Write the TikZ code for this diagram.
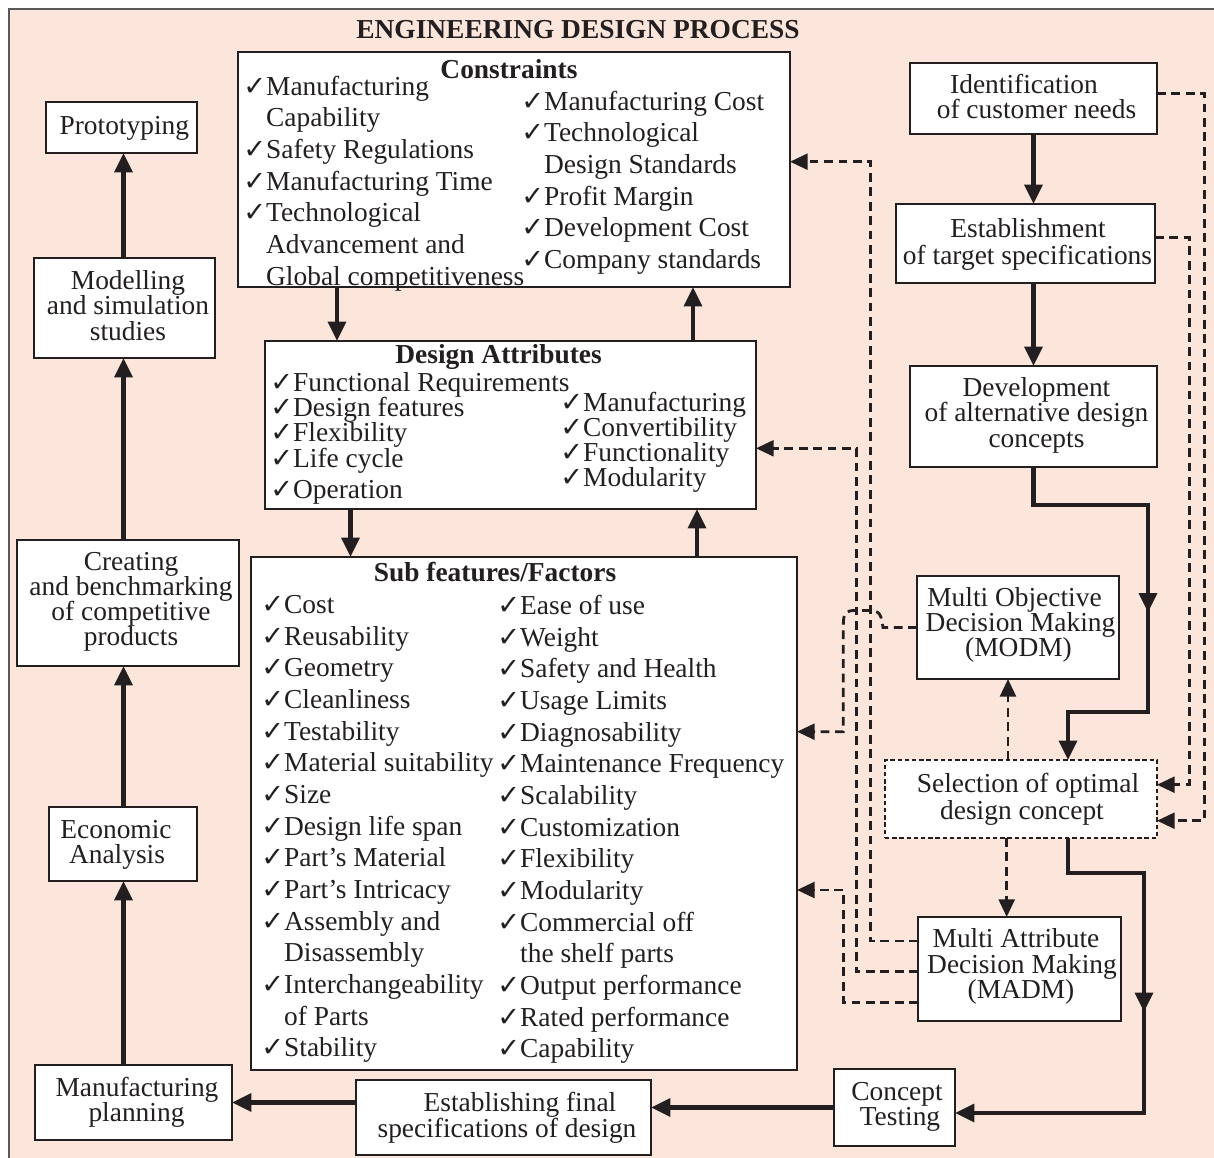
\documentclass[tikz,border=0pt]{standalone}
\usepackage{fontspec}
\setmainfont{Liberation Serif}
\newfontfamily\ckfont{DejaVu Sans}
\usetikzlibrary{arrows.meta,calc,fit,decorations.markings}
\definecolor{bg}{RGB}{252,230,220}
\definecolor{ln}{RGB}{35,31,32}
\newcommand\ck{{\ckfont\fontsize{15.5}{15.5}\selectfont ✓}}
\newcommand\itemcol[3]{%
  \foreach \f/\y/\t [count=\i] in {#3} {
    \node[itm, anchor=base west] (#1\i) at (#2,\y)
      {\ifnum\f=1 \makebox[13pt][l]{\ck}\else\hspace*{13pt}\fi\t};
  }}
\newcommand\boxlines[2]{%
  \foreach \x/\y/\t [count=\i] in {#2} {
    \node[itm, anchor=base] (#1\i) at (\x,\y) {\t};
  }}
\tikzset{
  box/.style={draw=ln, line width=0.7pt, fill=white, inner sep=0pt, outer sep=0pt},
  dbox/.style={box, dash pattern=on 2.5pt off 1.6pt},
  itm/.style={inner sep=0pt, text=ln, font=\fontsize{15.6}{18}\selectfont},
  ttl/.style={inner sep=0pt, text=ln, font=\fontsize{15.6}{18}\selectfont\bfseries},
  flow/.style={draw=ln, line width=2.6pt, -{Triangle[length=11pt,width=10pt]}},
  fb/.style={draw=ln, line width=1.6pt, dash pattern=on 5pt off 3.2pt,
    -{Triangle[length=10pt,width=9pt]}},
  midarr/.style={postaction={decorate}, decoration={markings,
    mark=at position #1 with {\arrow{Triangle[length=11pt,width=10pt]}}}},
}
\begin{document}
\begin{tikzpicture}[x=0.02cm,y=-0.02cm]
\useasboundingbox (0,0) rectangle (1214,1157);
\fill[bg] (9,9) rectangle (1214,1165);
\draw[gray!70!black, line width=0.6pt] (1213.5,9) -- (9,9) -- (9,1165);

\node[ttl, anchor=base] (title) at (578,38) {ENGINEERING DESIGN PROCESS};

% ---- big boxes ----
\node[box, fit={(238,52)(790,287)}] (cons) {};
\node[box, fit={(265,341)(756,509)}] (da) {};
\node[box, fit={(251,557)(797,1070)}] (sf) {};
\node[ttl, anchor=base] (tcons) at (509,78.3) {Constraints};
\node[ttl, anchor=base] (tda) at (498.6,363.3) {Design Attributes};
\node[ttl, anchor=base] (tsf) at (495,581.7) {Sub features/Factors};

\itemcol{cl}{243}{1/95/Manufacturing, 0/126.7/Capability, 1/158.3/Safety Regulations,
  1/190/Manufacturing Time, 1/221.7/Technological, 0/253.3/Advancement and,
  0/285/Global competitiveness}
\itemcol{cr}{521}{1/110/Manufacturing Cost, 1/141.7/Technological, 0/173.3/Design Standards,
  1/205/Profit Margin, 1/236.7/Development Cost, 1/268.3/Company standards}
\itemcol{dl}{270}{1/391.7/Functional Requirements, 1/416.7/Design features,
  1/441.7/Flexibility, 1/467.7/Life cycle, 1/498.3/Operation}
\itemcol{dr}{560}{1/411.7/Manufacturing, 1/436.7/Convertibility,
  1/461.7/Functionality, 1/486.7/Modularity}
\itemcol{sl}{261}{1/613.3/Cost, 1/645/Reusability, 1/676.6/Geometry, 1/708.3/Cleanliness,
  1/740/Testability, 1/771.7/Material suitability, 1/803.3/Size, 1/835/Design life span,
  1/866.7/Part’s Material, 1/898.3/Part’s Intricacy, 1/930/Assembly and,
  0/961.7/Disassembly, 1/993.3/Interchangeability, 0/1025/of Parts, 1/1056.7/Stability}
\itemcol{sr}{497}{1/614.3/Ease of use, 1/646/Weight, 1/677.6/Safety and Health,
  1/709.3/Usage Limits, 1/741/Diagnosability, 1/772.7/Maintenance Frequency,
  1/804.3/Scalability, 1/836/Customization, 1/867.7/Flexibility, 1/899.3/Modularity,
  1/931/Commercial off, 0/962.7/the shelf parts, 1/994.3/Output performance,
  1/1026/Rated performance, 1/1057.7/Capability}

% ---- right column ----
\node[box, fit={(910,63)(1157,134)}] (ident) {};
\boxlines{identt}{1024/93.3/Identification, 1036.5/118.3/of customer needs}
\node[box, fit={(896,204)(1155,283)}] (est) {};
\boxlines{estt}{1028/237.3/Establishment, 1027.5/264/of target specifications}
\node[box, fit={(910,366)(1157,467)}] (dev) {};
\boxlines{devt}{1036.5/396/Development, 1036.5/421.7/of alternative design, 1036.5/447.3/concepts}
\node[box, fit={(917,576)(1119,679)}] (modm) {};
\boxlines{modmt}{1014.5/606.7/Multi Objective, 1020.5/631.7/Decision Making, 1018.5/656.7/(MODM)}
\node[dbox, fit={(885,760)(1157,838)}] (sel) {};
\boxlines{selt}{1028/792.7/Selection of optimal, 1022/819.3/design concept}
\node[box, fit={(918,917)(1121,1021)}] (madm) {};
\boxlines{madmt}{1016/947.3/Multi Attribute, 1022/973.3/Decision Making, 1021/998.3/(MADM)}
\node[box, fit={(834,1069)(955,1146)}] (ct) {};
\boxlines{ctt}{897/1100.5/Concept, 900/1125.5/Testing}

% ---- bottom / left column ----
\node[box, fit={(356,1080)(651,1155)}] (efs) {};
\boxlines{efst}{520/1111.5/Establishing final, 507/1137/specifications of design}
\node[box, fit={(35,1065)(232,1140)}] (mp) {};
\boxlines{mpt}{137/1096.5/Manufacturing, 136.5/1121/planning}
\node[box, fit={(49,807)(197,881)}] (ea) {};
\boxlines{eat}{116/838.3/Economic, 117/863.3/Analysis}
\node[box, fit={(17,540)(239,666)}] (crt) {};
\boxlines{crtt}{131/570/Creating, 131/595/and benchmarking, 131/620.7/of competitive, 131/645/products}
\node[box, fit={(34,258)(215,358)}] (mod) {};
\boxlines{modt}{128/289/Modelling, 128/314.5/and simulation, 128/340/studies}
\node[box, fit={(46,102)(197,153)}] (proto) {};
\boxlines{protot}{124.3/134/Prototyping}

% ---- helper coordinates ----
\coordinate (lx) at (123.5,0);
\coordinate (ax1) at (337,0);
\coordinate (ax2) at (693,0);
\coordinate (ax3) at (350.5,0);
\coordinate (ax4) at (697,0);
\coordinate (s1) at (1068,0);
\coordinate (r1) at (1204.5,0);
\coordinate (r2) at (1189.5,0);
\coordinate (v1) at (870.5,0);
\coordinate (v2) at (856.5,0);
\coordinate (v3) at (843.3,0);
\coordinate (sm1) at (1008,0);
\coordinate (sm2) at (1006.7,0);
\coordinate (selin1) at ($(sel.east)+(0,-14.3)$);
\coordinate (selin2) at ($(sel.east)+(0,21.7)$);
\coordinate (consin) at ($(cons.east)+(0,-7.8)$);
\coordinate (dain) at ($(da.east)+(0,23.3)$);
\coordinate (sfin1) at ($(sf.east)+(0,-81.8)$);
\coordinate (sfin2) at ($(sf.east)+(0,76.5)$);
\coordinate (ctin) at ($(ct.east)+(0,5.5)$);

% ---- solid flow ----
\draw[flow] (ident.south) -- (ident.south |- est.north);
\draw[flow] (dev.north |- est.south) -- (dev.north);
\draw[flow, midarr=5.2cm] (dev.south) |- (1148,505) -- (1148,712) -| (s1 |- sel.north);
\draw[flow, midarr=5.0cm] (s1 |- sel.south) |- (1144,873) |- (ctin);
\draw[flow] (ct.west) -- (ct.west -| efs.east);
\draw[flow] (mp.east -| efs.west) -- (mp.east);
\draw[flow] (lx |- mp.north) -- (lx |- ea.south);
\draw[flow] (lx |- ea.north) -- (lx |- crt.south);
\draw[flow] (lx |- crt.north) -- (lx |- mod.south);
\draw[flow] (lx |- mod.north) -- (lx |- proto.south);
\draw[flow] (ax1 |- cons.south) -- (ax1 |- da.north);
\draw[flow] (ax2 |- da.north) -- (ax2 |- cons.south);
\draw[flow] (ax3 |- da.south) -- (ax3 |- sf.north);
\draw[flow] (ax4 |- sf.north) -- (ax4 |- da.south);

% ---- dashed feedback ----
\draw[fb] ($(ident.east)+(0,-5)$) -| (r1 |- selin2) -- (selin2);
\draw[fb] ($(est.east)+(0,-5.8)$) -| (r2 |- selin1) -- (selin1);
\draw[fb] ($(madm.west)+(0,-28)$) -| (v1 |- consin) -- (consin);
\draw[fb] ($(madm.west)+(0,2.7)$) -| (v2 |- dain) -- (dain);
\draw[fb] ($(madm.west)+(0,33.3)$) -| (v3 |- sfin2) -- (sfin2);
\draw[fb] (modm.west) -- (883,627.5) .. controls (881,611) and (878,610.5) .. (866,610.5)
  -- (855,610.5) .. controls (846,610.5) and (843.3,613) .. (843.3,625) |- (sfin1);
\draw[fb] (sm1 |- sel.north) -- (sm1 |- modm.south);
\draw[fb] (sm2 |- sel.south) -- (sm2 |- madm.north);
\end{tikzpicture}
\end{document}
